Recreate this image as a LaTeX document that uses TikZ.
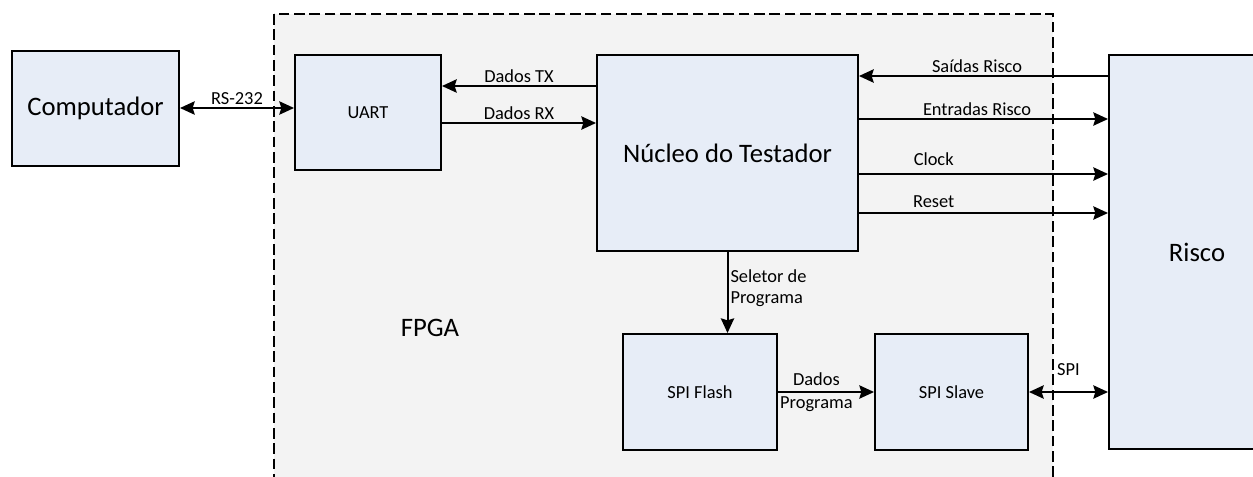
\documentclass[tikz,border=0pt]{standalone}
\usepackage{fontspec}
\setmainfont{Carlito}
\usetikzlibrary{arrows.meta}

\begin{document}
\begin{tikzpicture}[x=0.75pt,y=0.75pt,yscale=-1,xscale=1,
    block/.style={draw, line width=1.5pt, fill={rgb, 255:red, 231; green, 237; blue, 247}, inner sep=0pt, font=\fontsize{13.8}{16}\selectfont},
    bigblock/.style={block, font=\fontsize{20}{24}\selectfont},
    link/.style={line width=1.5pt, -{Stealth[length=11pt,width=10pt,inset=1.5pt]}},
    duplex/.style={line width=1.5pt, {Stealth[length=11pt,width=10pt,inset=1.5pt]}-{Stealth[length=11pt,width=10pt,inset=1.5pt]}},
    lbl/.style={inner sep=1.5pt, font=\fontsize{13.8}{16}\selectfont}]
    \clip (0,0) rectangle (1253,476) ;
    %Shape: Rectangle (FPGA)
    \draw [dash pattern=on 8pt off 3.5pt, line width=1.2pt, fill={rgb, 255:red, 243; green, 243; blue, 243}] (274,14) rectangle (1053,500) ;
    % Text Node
    \node [font=\fontsize{20}{24}\selectfont] (fpga) at (430,328) {FPGA};

    %Shape: blocks
    \node [bigblock, minimum width=167*0.75pt, minimum height=115*0.75pt] (comp) at (95.5,108.5) {Computador};
    \node [block, minimum width=146*0.75pt, minimum height=115*0.75pt] (uart) at (368,112.5) {UART};
    \node [bigblock, minimum width=261*0.75pt, minimum height=196*0.75pt] (nucleo) at (727.5,153) {Núcleo do Testador};
    \node [block, minimum width=154*0.75pt, minimum height=116*0.75pt] (flash) at (700,392) {SPI Flash};
    \node [block, minimum width=153*0.75pt, minimum height=116*0.75pt] (slave) at (951.5,392) {SPI Slave};
    \node [bigblock, minimum width=176*0.75pt, minimum height=394*0.75pt] (risco) at (1197,252) {Risco};

    % signal levels
    \coordinate (tx) at (0,86) ;
    \coordinate (rx) at (0,123) ;
    \coordinate (sai) at (0,76) ;
    \coordinate (ent) at (0,119) ;
    \coordinate (clk) at (0,174) ;
    \coordinate (rst) at (0,213) ;

    %Straight Lines
    \draw [duplex] (comp.east |- 0,108) -- (uart.west |- 0,108) node [lbl, midway, above] {RS-232} ;
    \draw [link] (nucleo.west |- tx) -- (uart.east |- tx) node [lbl, midway, above] {Dados TX} ;
    \draw [link] (uart.east |- rx) -- (nucleo.west |- rx) node [lbl, midway, above] {Dados RX} ;
    \draw [link] (risco.west |- sai) -- (nucleo.east |- sai) node [lbl, pos=0.526, above] {Saídas Risco} ;
    \draw [link] (nucleo.east |- ent) -- (risco.west |- ent) node [lbl, pos=0.474, above] {Entradas Risco} ;
    \draw [link] (nucleo.east |- clk) -- (risco.west |- clk) node [lbl, pos=0.3, above=4pt] {Clock} ;
    \draw [link] (nucleo.east |- rst) -- (risco.west |- rst) node [lbl, pos=0.3, above=2pt] {Reset} ;
    \draw [link] (nucleo.south) -- (nucleo.south |- flash.north) node [lbl, pos=0.45, right, align=left] {Seletor de\\Programa} ;
    \draw [link] (flash.east) -- (slave.west) node [lbl, pos=0.4, align=center, font=\fontsize{13.8}{17}\selectfont] {Dados\\Programa} ;
    \draw [duplex] (slave.east) -- (slave.east -| risco.west) node [lbl, midway, above=10pt] {SPI} ;
\end{tikzpicture}
\end{document}
